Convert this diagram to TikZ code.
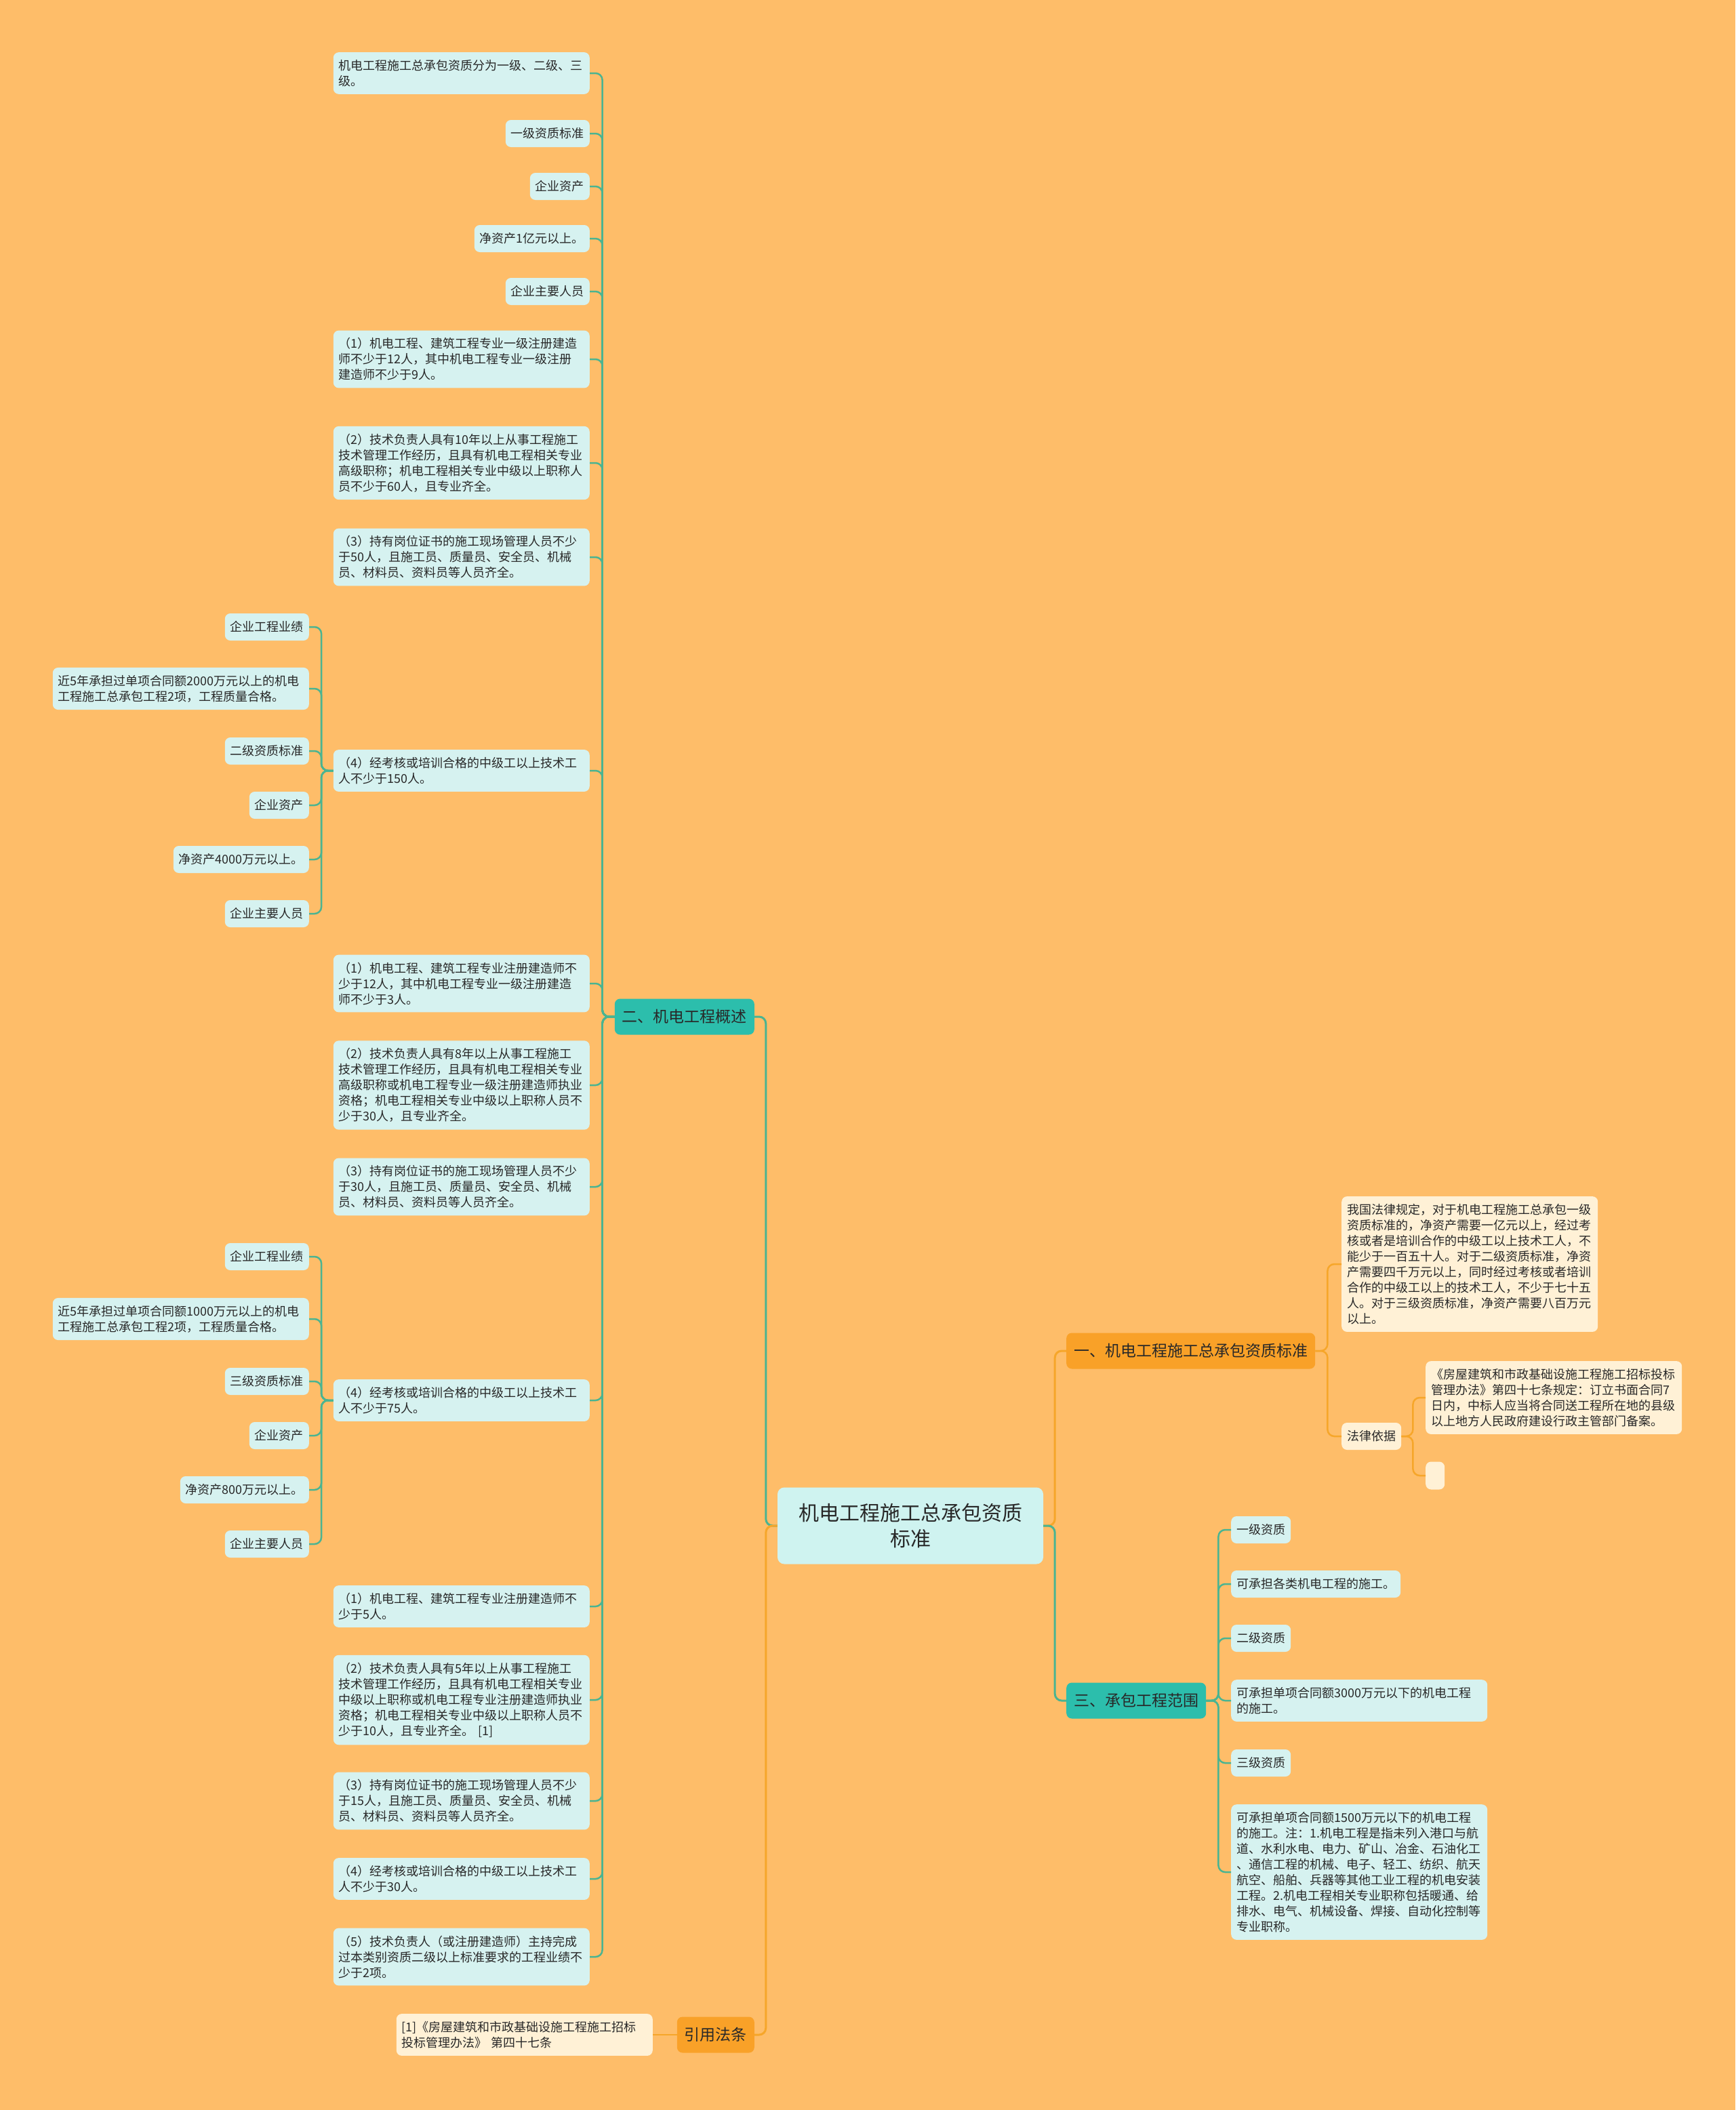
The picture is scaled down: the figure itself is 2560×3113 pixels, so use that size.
\documentclass[tikz,border=0pt]{standalone}
\usepackage{fontspec}
\setmainfont{Noto Sans CJK SC}
\usetikzlibrary{positioning}
\definecolor{PageOrange}{RGB}{254,189,105}
\definecolor{TopicTeal}{RGB}{44,190,172}
\definecolor{TopicOrange}{RGB}{249,161,40}
\definecolor{LineTeal}{RGB}{74,180,145}
\definecolor{LineOrange}{RGB}{246,166,42}
\definecolor{RootCyan}{RGB}{207,243,240}
\definecolor{LeafCyan}{RGB}{214,242,240}
\definecolor{LeafCream}{RGB}{255,241,214}
\definecolor{InkGray}{RGB}{40,40,40}

\begin{document}
\begin{tikzpicture}[x=1pt,y=-1pt,
    root/.style={fill=RootCyan,rounded corners=10pt,align=center,text=InkGray,
                 font=\fontsize{30}{38}\selectfont,minimum width=392pt,minimum height=113pt},
    topic/.style={rounded corners=8pt,text=InkGray,font=\fontsize{23}{28}\selectfont,
                  inner xsep=11pt,minimum height=53pt},
    ttopic/.style={topic,fill=TopicTeal},
    otopic/.style={topic,fill=TopicOrange},
    leaf/.style={rounded corners=8pt,text=InkGray,font=\fontsize{18}{23}\selectfont,
                 inner xsep=8pt,inner ysep=11pt,minimum height=40pt,align=left},
    tleaf/.style={leaf,fill=LeafCyan},
    oleaf/.style={leaf,fill=LeafCream},
    wide/.style={text width=362pt},
    tline/.style={draw=LineTeal,line width=2.5pt,rounded corners=10pt},
    oline/.style={draw=LineOrange,line width=2.5pt,rounded corners=10pt}]
  \fill[PageOrange] (0,0) rectangle (2560,3113);
  % centre and the four topics
  \node[root] (root) at (1343,2251) {机电工程施工总承包资质\\标准};
  \node[ttopic,anchor=east] (ovw) at (1113,1500) {二、机电工程概述};
  \node[otopic,anchor=east] (cite) at (1113,3002) {引用法条};
  \node[otopic,anchor=west] (std) at (1573,1993) {一、机电工程施工总承包资质标准};
  \node[ttopic,anchor=west] (rng) at (1573,2509) {三、承包工程范围};
  % topic two, left column
  \node[tleaf,wide,anchor=east] (a1) at (870,108) {机电工程施工总承包资质分为一级、二级、三\\级。};
  \node[tleaf,anchor=east] (a2) at (870,197) {一级资质标准};
  \node[tleaf,anchor=east] (a3) at (870,275) {企业资产};
  \node[tleaf,anchor=east] (a4) at (870,352) {净资产1亿元以上。};
  \node[tleaf,anchor=east] (a5) at (870,430) {企业主要人员};
  \node[tleaf,wide,anchor=east] (a6) at (870,530) {（1）机电工程、建筑工程专业一级注册建造\\师不少于12人，其中机电工程专业一级注册\\建造师不少于9人。};
  \node[tleaf,wide,anchor=east] (a7) at (870,683) {（2）技术负责人具有10年以上从事工程施工\\技术管理工作经历，且具有机电工程相关专业\\高级职称；机电工程相关专业中级以上职称人\\员不少于60人，且专业齐全。};
  \node[tleaf,wide,anchor=east] (a8) at (870,822) {（3）持有岗位证书的施工现场管理人员不少\\于50人，且施工员、质量员、安全员、机械\\员、材料员、资料员等人员齐全。};
  \node[tleaf,wide,anchor=east] (a9) at (870,1137) {（4）经考核或培训合格的中级工以上技术工\\人不少于150人。};
  \node[tleaf,wide,anchor=east] (a10) at (870,1451) {（1）机电工程、建筑工程专业注册建造师不\\少于12人，其中机电工程专业一级注册建造\\师不少于3人。};
  \node[tleaf,wide,anchor=east] (a11) at (870,1601) {（2）技术负责人具有8年以上从事工程施工\\技术管理工作经历，且具有机电工程相关专业\\高级职称或机电工程专业一级注册建造师执业\\资格；机电工程相关专业中级以上职称人员不\\少于30人，且专业齐全。};
  \node[tleaf,wide,anchor=east] (a12) at (870,1751) {（3）持有岗位证书的施工现场管理人员不少\\于30人，且施工员、质量员、安全员、机械\\员、材料员、资料员等人员齐全。};
  \node[tleaf,wide,anchor=east] (a13) at (870,2066) {（4）经考核或培训合格的中级工以上技术工\\人不少于75人。};
  \node[tleaf,wide,anchor=east] (a14) at (870,2370) {（1）机电工程、建筑工程专业注册建造师不\\少于5人。};
  \node[tleaf,wide,anchor=east] (a15) at (870,2508) {（2）技术负责人具有5年以上从事工程施工\\技术管理工作经历，且具有机电工程相关专业\\中级以上职称或机电工程专业注册建造师执业\\资格；机电工程相关专业中级以上职称人员不\\少于10人，且专业齐全。 [1]};
  \node[tleaf,wide,anchor=east] (a16) at (870,2657) {（3）持有岗位证书的施工现场管理人员不少\\于15人，且施工员、质量员、安全员、机械\\员、材料员、资料员等人员齐全。};
  \node[tleaf,wide,anchor=east] (a17) at (870,2772) {（4）经考核或培训合格的中级工以上技术工\\人不少于30人。};
  \node[tleaf,wide,anchor=east] (a18) at (870,2887) {（5）技术负责人（或注册建造师）主持完成\\过本类别资质二级以上标准要求的工程业绩不\\少于2项。};
  % grade two items
  \node[tleaf,anchor=east] (b1) at (456,925) {企业工程业绩};
  \node[tleaf,wide,anchor=east] (b2) at (456,1016) {近5年承担过单项合同额2000万元以上的机电\\工程施工总承包工程2项，工程质量合格。};
  \node[tleaf,anchor=east] (b3) at (456,1108) {二级资质标准};
  \node[tleaf,anchor=east] (b4) at (456,1188) {企业资产};
  \node[tleaf,anchor=east] (b5) at (456,1268) {净资产4000万元以上。};
  \node[tleaf,anchor=east] (b6) at (456,1348) {企业主要人员};
  % grade three items
  \node[tleaf,anchor=east] (c1) at (456,1854) {企业工程业绩};
  \node[tleaf,wide,anchor=east] (c2) at (456,1946) {近5年承担过单项合同额1000万元以上的机电\\工程施工总承包工程2项，工程质量合格。};
  \node[tleaf,anchor=east] (c3) at (456,2038) {三级资质标准};
  \node[tleaf,anchor=east] (c4) at (456,2118) {企业资产};
  \node[tleaf,anchor=east] (c5) at (456,2198) {净资产800万元以上。};
  \node[tleaf,anchor=east] (c6) at (456,2278) {企业主要人员};
  % cited law
  \node[oleaf,wide,anchor=east] (cite1) at (963,3002) {[1]《房屋建筑和市政基础设施工程施工招标\\投标管理办法》 第四十七条};
  % topic one
  \node[oleaf,wide,anchor=west] (r1) at (1979,1865) {我国法律规定，对于机电工程施工总承包一级\\资质标准的，净资产需要一亿元以上，经过考\\核或者是培训合作的中级工以上技术工人，不\\能少于一百五十人。对于二级资质标准，净资\\产需要四千万元以上，同时经过考核或者培训\\合作的中级工以上的技术工人，不少于七十五\\人。对于三级资质标准，净资产需要八百万元\\以上。};
  \node[oleaf,anchor=west] (r2) at (1979,2119) {法律依据};
  \node[oleaf,wide,anchor=west] (r2a) at (2103,2062) {《房屋建筑和市政基础设施工程施工招标投标\\管理办法》第四十七条规定：订立书面合同7\\日内，中标人应当将合同送工程所在地的县级\\以上地方人民政府建设行政主管部门备案。};
  \node[oleaf,anchor=west,inner sep=0pt,minimum width=28pt,minimum height=41pt] (r2b) at (2103,2177) {};
  % topic three
  \node[tleaf,anchor=west] (t1) at (1816,2257) {一级资质};
  \node[tleaf,anchor=west] (t2) at (1816,2337) {可承担各类机电工程的施工。};
  \node[tleaf,anchor=west] (t3) at (1816,2417) {二级资质};
  \node[tleaf,wide,anchor=west] (t4) at (1816,2509) {可承担单项合同额3000万元以下的机电工程\\的施工。};
  \node[tleaf,anchor=west] (t5) at (1816,2601) {三级资质};
  \node[tleaf,wide,anchor=west] (t6) at (1816,2762) {可承担单项合同额1500万元以下的机电工程\\的施工。注：1.机电工程是指未列入港口与航\\道、水利水电、电力、矿山、冶金、石油化工\\、通信工程的机械、电子、轻工、纺织、航天\\航空、船舶、兵器等其他工业工程的机电安装\\工程。2.机电工程相关专业职称包括暖通、给\\排水、电气、机械设备、焊接、自动化控制等\\专业职称。};
  % connectors
  \draw[tline,line width=3pt] (root.west) -- ++(-17,0) |- (ovw.east);
  \draw[oline,line width=3pt] (root.west) -- ++(-17,0) |- (cite.east);
  \draw[oline,line width=3pt] (root.east) -- ++(17,0) |- (std.west);
  \draw[tline,line width=3pt] (root.east) -- ++(17,0) |- (rng.west);
  \foreach \c in {a1,a2,a3,a4,a5,a6,a7,a8,a9,a10,a11,a12,a13,a14,a15,a16,a17,a18}
    \draw[tline] (ovw.west) -- ++(-18,0) |- (\c.east);
  \foreach \c in {b1,b2,b3,b4,b5,b6}
    \draw[tline] (a9.west) -- ++(-17.5,0) |- (\c.east);
  \foreach \c in {c1,c2,c3,c4,c5,c6}
    \draw[tline] (a13.west) -- ++(-17.5,0) |- (\c.east);
  \foreach \c in {r1,r2}
    \draw[oline] (std.east) -- ++(18,0) |- (\c.west);
  \foreach \c in {r2a,r2b}
    \draw[oline] (r2.east) -- ++(17,0) |- (\c.west);
  \foreach \c in {t1,t2,t3,t4,t5,t6}
    \draw[tline] (rng.east) -- ++(18,0) |- (\c.west);
  \draw[oline] (cite.west) -- (cite1.east);
\end{tikzpicture}
\end{document}
